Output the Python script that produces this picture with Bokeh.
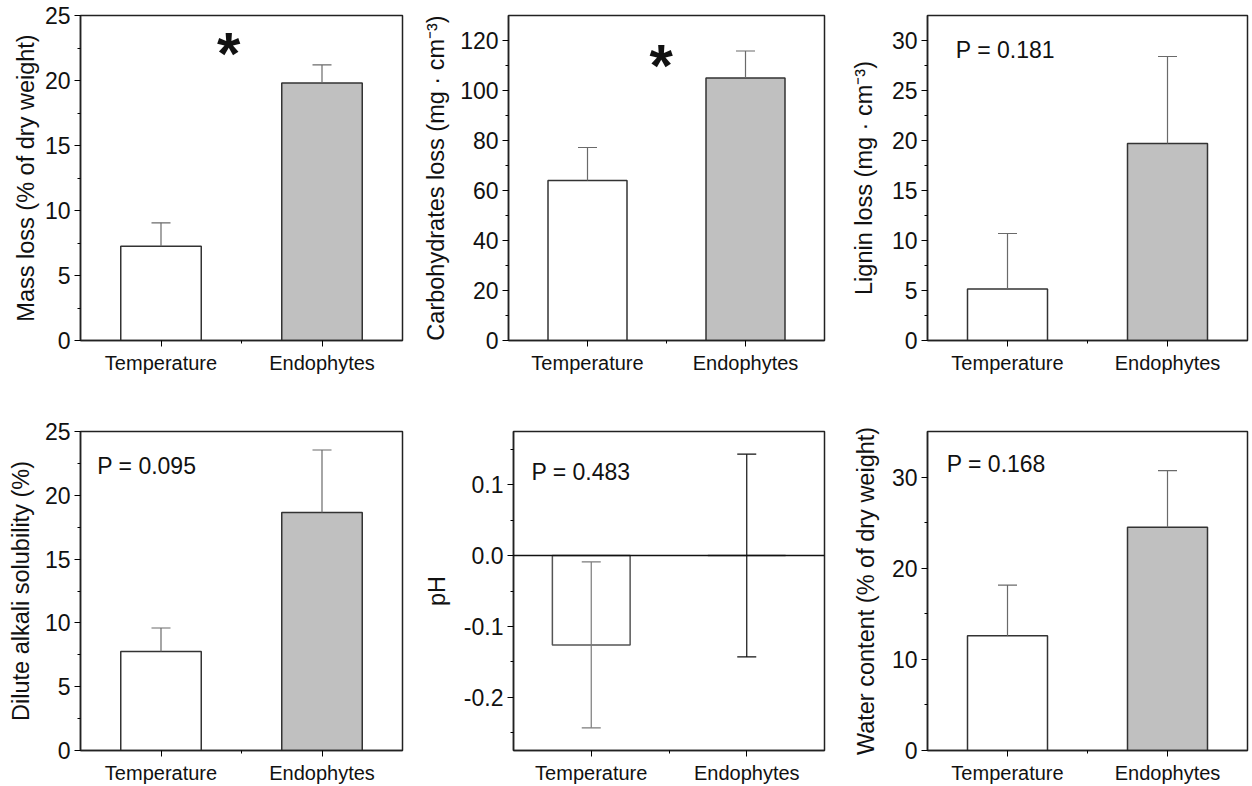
from bokeh.plotting import figure
from bokeh.layouts import column, row
from bokeh.models import (Range1d, FixedTicker, ColumnDataSource, Whisker, TeeHead,
                          Span, Label, PrintfTickFormatter)
from bokeh.embed import file_html
from bokeh.resources import INLINE

# ---- data -------------------------------------------------------------
groups = ["Temperature", "Endophytes"]

mass_loss = [7.25, 19.8]
mass_loss_err = [1.8, 1.4]

carb_loss = [64.0, 105.0]
carb_loss_err = [13.2, 10.8]

lignin_loss = [5.15, 19.7]
lignin_loss_err = [5.55, 8.7]

alkali_sol = [7.75, 18.65]
alkali_sol_err = [1.85, 4.9]

ph_change = [-0.126, 0.0]
ph_change_err = [0.117, 0.143]

water_content = [12.6, 24.5]
water_content_err = [5.55, 6.2]

# tick positions for each panel
mass_ticks = [0, 5, 10, 15, 20, 25]
carb_ticks = [0, 20, 40, 60, 80, 100, 120]
lignin_ticks = [0, 5, 10, 15, 20, 25, 30]
alkali_ticks = [0, 5, 10, 15, 20, 25]
ph_ticks = [-0.2, -0.1, 0.0, 0.1]
water_ticks = [0, 10, 20, 30]

FONT = "Liberation Sans"
BAR_FILLS = ["white", "#c0c0c0"]
X_POS = [i + 0.5 for i in range(len(groups))]


def minor_between(ticks, lo, hi):
    step = ticks[1] - ticks[0]
    out = []
    t = ticks[0] - step / 2
    while t > lo:
        out.append(t)
        t -= step
    t = ticks[0] + step / 2
    while t < hi:
        out.append(t)
        t += step
    return out


def panel(values, errs, ymin, ymax, ticks, ylabel, width, height,
          bl, br, bt, bb, label_standoff, two_sided=False, fmt=None,
          err_colors=("#6a6a6a", "#6a6a6a"), bar_line="#333333"):
    p = figure(width=width, height=height, x_range=Range1d(0, 2),
               y_range=Range1d(ymin, ymax), output_backend="svg",
               toolbar_location=None, min_border_left=bl, min_border_right=br,
               min_border_top=bt, min_border_bottom=bb)
    p.grid.visible = False
    p.outline_line_color = "#222222"
    p.outline_line_width = 1.5
    p.background_fill_color = "white"
    p.border_fill_color = "white"

    xa = p.xaxis[0]
    xa.ticker = FixedTicker(ticks=X_POS, minor_ticks=[1.0])
    xa.major_label_overrides = {x: g for x, g in zip(X_POS, groups)}
    xa.major_label_text_font = FONT
    xa.major_label_text_font_size = "20px"
    xa.major_label_text_color = "#111111"
    xa.major_label_standoff = 5
    xa.major_tick_in = 0
    xa.major_tick_out = 6
    xa.minor_tick_in = 0
    xa.minor_tick_out = 3
    xa.axis_line_width = 1.5
    xa.axis_line_color = "#222222"

    ya = p.yaxis[0]
    ya.ticker = FixedTicker(ticks=ticks, minor_ticks=minor_between(ticks, ymin, ymax))
    if fmt:
        ya.formatter = PrintfTickFormatter(format=fmt)
    ya.major_label_text_font = FONT
    ya.major_label_text_font_size = "23px"
    ya.major_label_text_color = "#111111"
    ya.major_label_standoff = 4
    ya.major_tick_in = 0
    ya.major_tick_out = 6
    ya.minor_tick_in = 0
    ya.minor_tick_out = 3
    ya.axis_line_width = 1.5
    ya.axis_line_color = "#222222"
    ya.axis_label = ylabel
    ya.axis_label_text_font = FONT
    ya.axis_label_text_font_size = "23.5px"
    ya.axis_label_text_font_style = "normal"
    ya.axis_label_text_color = "#111111"
    ya.axis_label_standoff = label_standoff

    src = ColumnDataSource(dict(
        x=X_POS, top=values, fill=BAR_FILLS,
        hi=[v + e for v, e in zip(values, errs)],
        lo=[v - e if two_sided else v for v, e in zip(values, errs)],
    ))
    p.vbar(x="x", top="top", bottom=0, width=0.5, source=src,
           fill_color="fill", line_color=bar_line, line_width=1.5)

    for i, c in enumerate(err_colors):
        sub = ColumnDataSource(dict(x=[src.data["x"][i]], hi=[src.data["hi"][i]],
                                    lo=[src.data["lo"][i]]))
        w = Whisker(source=sub, base="x", upper="hi", lower="lo",
                    line_color=c, line_width=1.2, level="overlay",
                    upper_head=TeeHead(size=19, line_color=c, line_width=1.2),
                    lower_head=TeeHead(size=19, line_color=c, line_width=1.2) if two_sided else None)
        p.add_layout(w)
    return p


def note(p, x, y, text, size="23px", bold=False, align="left", baseline="middle"):
    p.add_layout(Label(x=x, y=y, text=text, text_font=FONT, text_font_size=size,
                       text_font_style="bold" if bold else "normal",
                       text_align=align, text_baseline=baseline, text_color="#111111"))


p1 = panel(mass_loss, mass_loss_err, 0, 25, mass_ticks, "Mass loss (% of dry weight)",
           420, 390, 80, 18, 15, 50, 3)
note(p1, 0.92, 22.1, "*", size="60px", bold=True, align="center", baseline="alphabetic")

p2 = panel(carb_loss, carb_loss_err, 0, 130, carb_ticks,
           "Carbohydrates loss (mg \u00b7 cm\u207b\u00b3)", 410, 390, 83, 6, 15, 50, 8)
note(p2, 0.966, 109.9, "*", size="60px", bold=True, align="center", baseline="alphabetic")

p3 = panel(lignin_loss, lignin_loss_err, 0, 32.5, lignin_ticks,
           "Lignin loss (mg \u00b7 cm\u207b\u00b3)", 422, 390, 97, 5, 15, 50, 12)
note(p3, 0.177, 29.1, "P = 0.181")

p4 = panel(alkali_sol, alkali_sol_err, 0, 25, alkali_ticks, "Dilute alkali solubility (%)",
           420, 396, 80, 18, 41, 33, 8)
note(p4, 0.104, 22.3, "P = 0.095")

p5 = panel(ph_change, ph_change_err, -0.275, 0.175, ph_ticks, "pH",
           410, 396, 83, 6, 41, 33, 11, two_sided=True, fmt="%.1f",
           err_colors=("#7a7a7a", "#111111"), bar_line="#555555")
p5.add_layout(Span(location=0, dimension="width", line_color="#111111", line_width=1.5,
                   level="overlay"))
note(p5, 0.115, 0.118, "P = 0.483")

p6 = panel(water_content, water_content_err, 0, 35, water_ticks,
           "Water content (% of dry weight)", 422, 396, 97, 5, 41, 33, 10)
note(p6, 0.12, 31.4, "P = 0.168")

layout = column(row(p1, p2, p3), row(p4, p5, p6))

with open("out.html", "w") as f:
    f.write(file_html(layout, INLINE))
